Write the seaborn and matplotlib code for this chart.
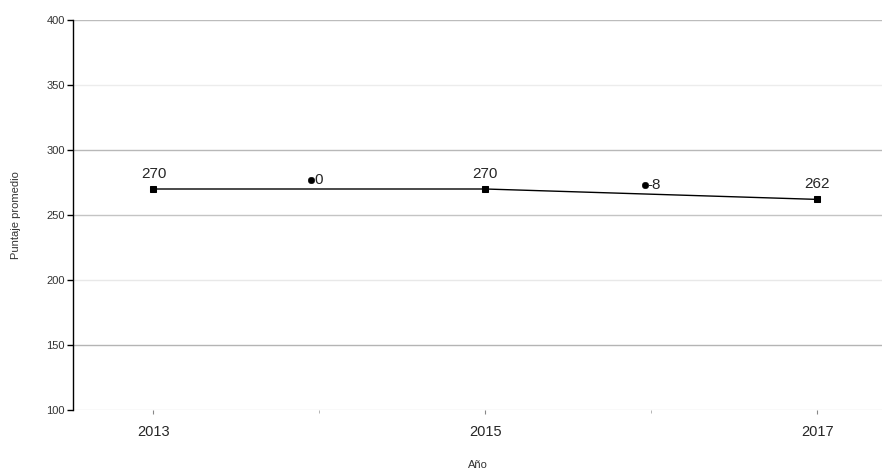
import numpy as np
import pandas as pd
import matplotlib
matplotlib.use('Agg')
import matplotlib.pyplot as plt
import seaborn as sns

# Data
years = [2013, 2015, 2017]
scores = [270, 270, 262]
score_labels = ['270', '270', '262']

# change markers between measurements
change_years = [2013.95, 2015.96]
change_y = [277, 273]
change_labels = ['0', '-8']

df = pd.DataFrame({'Año': years, 'Puntaje': scores})
df_chg = pd.DataFrame({'Año': change_years, 'y': change_y})

sns.set_style('white')
plt.rcParams['font.family'] = ['Liberation Sans', 'DejaVu Sans']

fig = plt.figure(figsize=(8.82, 4.70), dpi=100)
ax = fig.add_axes([73 / 882, 60 / 470, 809 / 882, 390 / 470])

# grid lines
grid_cols = {100: '#e4e4e4', 150: '#b4b4b4', 200: '#e8e8e8', 250: '#c4c4c4',
             300: '#b8b8b8', 350: '#ececec', 400: '#bcbcbc'}
for v, c in grid_cols.items():
    ax.axhline(v, color=c, lw=1, zorder=0)

sns.lineplot(data=df, x='Año', y='Puntaje', color='black', lw=1,
             marker='s', markersize=5, markeredgecolor='black', ax=ax)
sns.scatterplot(data=df_chg, x='Año', y='y', color='black', s=22, ax=ax,
                edgecolor='black', zorder=3)

for x, y, t in zip(years, scores, score_labels):
    ax.annotate(t, (x, y), xytext=(0, 6), textcoords='offset points',
                ha='center', va='bottom', fontsize=11)
for x, y, t in zip(change_years, change_y, change_labels):
    ax.annotate(t, (x, y), xytext=(2, 0), textcoords='offset points',
                ha='left', va='center', fontsize=11)

ax.set_xlim(2012.515, 2017.39)
ax.set_ylim(100, 400)
ax.set_yticks(range(100, 401, 50))
ax.set_xticks([2013, 2015, 2017])
ax.set_xticks([2014, 2016], minor=True)
ax.tick_params(axis='y', left=True, labelsize=8, length=4, width=1, color='black',
               labelcolor='#333333', pad=2)
ax.tick_params(axis='x', which='major', bottom=True, labelsize=10.5, length=3,
               color='#888888', pad=8)
ax.tick_params(axis='x', which='minor', bottom=True, length=2, color='#aaaaaa')

for side in ['top', 'right', 'bottom']:
    ax.spines[side].set_visible(False)
ax.spines['left'].set_color('black')
ax.spines['left'].set_linewidth(1)

ax.set_xlabel('Año', fontsize=8, color='#333333', labelpad=15)
ax.set_ylabel('Puntaje promedio', fontsize=8, color='#333333', labelpad=18)

fig.savefig('out.png', dpi=100)
